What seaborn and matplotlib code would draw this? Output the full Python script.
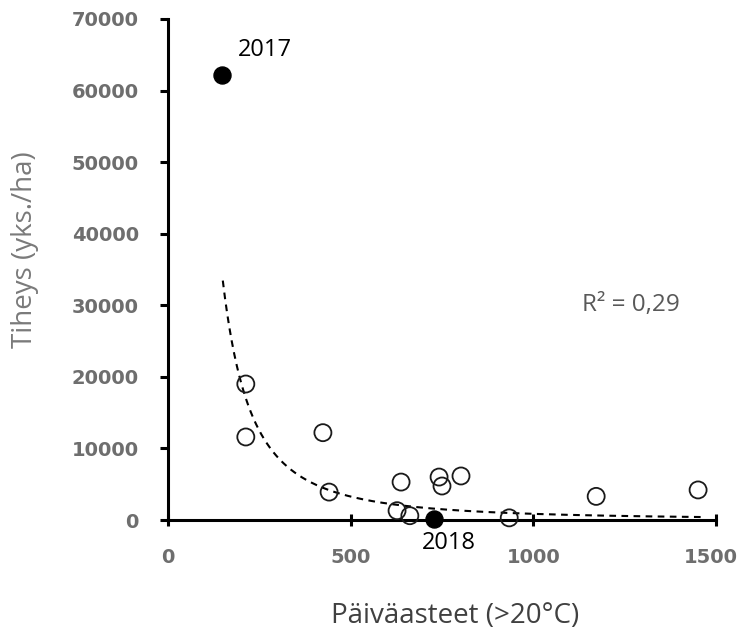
import numpy as np
import pandas as pd
import matplotlib
matplotlib.use("Agg")
import matplotlib.pyplot as plt
import matplotlib.transforms as mtransforms
import seaborn as sns

# Data
open_x = [213, 213, 424, 441, 638, 627, 662, 742, 750, 802, 934, 1172, 1451]
open_y = [19000, 11600, 12200, 3900, 5300, 1300, 600, 6000, 4750, 6150, 300, 3300, 4200]
filled_x = [148, 728]
filled_y = [62200, 150]
filled_labels = ["2017", "2018"]

# Power trendline y = a * x^b
TREND_A = 5.3e8
TREND_B = -1.93
trend_range = [150, 1460]
r2_text = "R² = 0,29"

xticks = [0, 500, 1000, 1500]
yticks = [0, 10000, 20000, 30000, 40000, 50000, 60000, 70000]

sns.set_theme(style="ticks")
plt.rcParams["font.family"] = ["Open Sans", "DejaVu Sans"]

fig = plt.figure(figsize=(7.41, 6.34), dpi=100)
ax = fig.add_axes([168 / 741, 1 - 520 / 634, 548 / 741, 501 / 634])

open_df = pd.DataFrame({"x": open_x, "y": open_y})
filled_df = pd.DataFrame({"x": filled_x, "y": filled_y, "label": filled_labels})

tx = np.geomspace(trend_range[0], trend_range[1], 300)
trend_df = pd.DataFrame({"x": tx, "y": TREND_A * tx ** TREND_B})

sns.lineplot(data=trend_df, x="x", y="y", ax=ax, color="black", lw=1.5,
             linestyle=(0, (3.2, 2.6)), zorder=2)
sns.scatterplot(data=open_df, x="x", y="y", ax=ax, s=150, facecolor="none",
                edgecolor="#1a1a1a", linewidth=1.3, zorder=5, clip_on=False)
sns.scatterplot(data=filled_df, x="x", y="y", ax=ax, s=150, color="black",
                edgecolor="black", linewidth=1, zorder=6, clip_on=False)

ax.set_xlim(0, 1500)
ax.set_ylim(0, 70000)
ax.set_xticks(xticks)
ax.set_yticks(yticks)
ax.set_xticklabels([str(v) for v in xticks])
ax.set_yticklabels([str(v) for v in yticks])

for sp in ["top", "right"]:
    ax.spines[sp].set_visible(False)
for sp in ["left", "bottom"]:
    ax.spines[sp].set_linewidth(2.2)
    ax.spines[sp].set_color("black")
    ax.spines[sp].set_zorder(4)

for lab in ax.get_xticklabels() + ax.get_yticklabels():
    lab.set_fontfamily("DejaVu Sans")
    lab.set_fontweight("bold")
    lab.set_fontsize(14)
    lab.set_color("#6e6e6e")
ax.tick_params(axis="y", direction="out", length=6, width=2.2, color="black", pad=15)
ax.tick_params(axis="x", direction="inout", length=9, width=2.2, color="black", pad=16)

# keep the last x tick label inside the figure
last = ax.get_xticklabels()[-1]
last.set_transform(last.get_transform() +
                   mtransforms.ScaledTranslation(-5 / 100, 0, fig.dpi_scale_trans))

ax.set_xlabel("Päiväasteet (>20°C)", fontsize=20, color="#404040")
ax.set_ylabel("Tiheys (yks./ha)", fontsize=20, color="#7a7a7a")
ax.xaxis.set_label_coords((455 - 168) / 548, (520 - 616) / 501)
ax.xaxis.label.set_va("center")
ax.yaxis.set_label_coords((25 - 168) / 548, (520 - 250) / 501)
ax.yaxis.label.set_va("center")

ax.text(264, 65700, filled_labels[0], fontsize=17, color="black", ha="center", va="center")
ax.text(769, -3200, filled_labels[1], fontsize=17, color="black", ha="center", va="center",
        clip_on=False)
ax.text(1133, 30000, r2_text, fontsize=17.5, color="#595959", ha="left", va="center")

fig.savefig("out.png", dpi=100)
